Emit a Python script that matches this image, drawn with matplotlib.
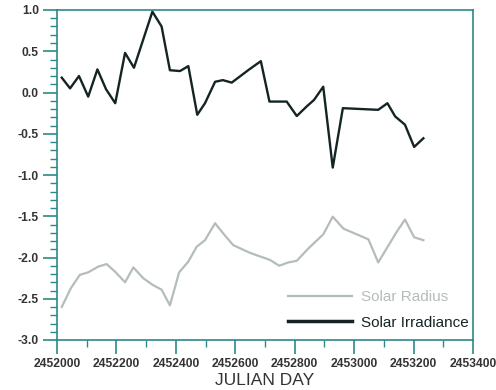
import matplotlib
matplotlib.use("Agg")
import matplotlib.pyplot as plt
from matplotlib.ticker import MultipleLocator

irr_x = [2452016, 2452044, 2452074, 2452105, 2452136, 2452165, 2452196, 2452229, 2452259, 2452290,
         2452321, 2452352, 2452380, 2452414, 2452442, 2452472, 2452498, 2452532, 2452558, 2452588,
         2452647, 2452686, 2452715, 2452773, 2452807, 2452840, 2452865, 2452896, 2452928, 2452962,
         2453081, 2453112, 2453138, 2453171, 2453202, 2453233]
irr_y = [0.18, 0.05, 0.20, -0.05, 0.28, 0.04, -0.13, 0.48, 0.30, 0.64,
         0.98, 0.80, 0.27, 0.26, 0.32, -0.27, -0.13, 0.13, 0.15, 0.12,
         0.28, 0.38, -0.11, -0.11, -0.285, -0.17, -0.09, 0.07, -0.91, -0.19,
         -0.21, -0.13, -0.29, -0.39, -0.66, -0.555]

rad_x = [2452016, 2452047, 2452077, 2452105, 2452139, 2452167, 2452195, 2452229, 2452257, 2452290,
         2452321, 2452352, 2452380, 2452411, 2452442, 2452470, 2452498, 2452532, 2452562, 2452593,
         2452647, 2452717, 2452748, 2452778, 2452807, 2452846, 2452896, 2452928, 2452964, 2453048,
         2453081, 2453143, 2453171, 2453202, 2453233]
rad_y = [-2.60, -2.37, -2.21, -2.18, -2.11, -2.08, -2.17, -2.30, -2.12, -2.25,
         -2.33, -2.39, -2.58, -2.18, -2.05, -1.87, -1.79, -1.585, -1.72, -1.85,
         -1.94, -2.03, -2.10, -2.06, -2.04, -1.89, -1.72, -1.505, -1.65, -1.78,
         -2.06, -1.69, -1.54, -1.755, -1.79]

plt.rcParams['font.family'] = ['Liberation Sans', 'DejaVu Sans']
fig = plt.figure(figsize=(4.96, 3.90), dpi=100)
ax = fig.add_axes([57/496, 1-340/390, 416/496, 330/390])

ax.plot(rad_x, rad_y, color='#b4bcbc', lw=1.6, label='Solar Radius')
ax.plot(irr_x, irr_y, color='#142424', lw=1.7, label='Solar Irradiance')

ax.set_xlim(2452000, 2453400)
ax.set_ylim(-3.0, 1.0)
ax.xaxis.set_major_locator(MultipleLocator(200))
ax.xaxis.set_minor_locator(MultipleLocator(100))
ax.yaxis.set_major_locator(MultipleLocator(0.5))
ax.yaxis.set_minor_locator(MultipleLocator(0.1))
ax.ticklabel_format(useOffset=False, style='plain', axis='x')
ax.yaxis.set_major_formatter(matplotlib.ticker.FormatStrFormatter('%.1f'))

sc = '#2a8a8a'
for s in ax.spines.values():
    s.set_color(sc)
    s.set_linewidth(1.2)
ax.tick_params(which='major', length=10, width=1.2, color=sc, direction='out',
               labelsize=8.7, labelcolor='#333333', pad=3)
ax.tick_params(which='minor', length=5, width=1.0, color=sc, direction='out')
for lab in ax.get_xticklabels() + ax.get_yticklabels():
    lab.set_fontweight('bold')

ax.set_xlabel('JULIAN DAY', fontsize=12.5, color='#333333', labelpad=2)

leg = ax.legend(loc='lower right', bbox_to_anchor=(1.024, -0.01), frameon=False,
                fontsize=11, handlelength=4.2, labelspacing=0.75, handletextpad=0.6)
leg.get_texts()[0].set_color('#b4bcbc')
leg.get_texts()[1].set_color('#142424')
leg.get_lines()[1].set_linewidth(2.5)

fig.savefig('out.png', dpi=100)
